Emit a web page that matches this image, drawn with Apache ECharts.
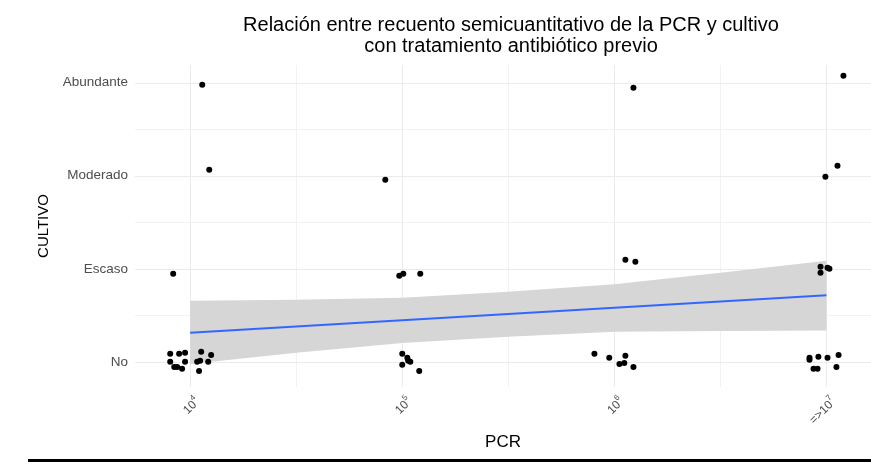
<!DOCTYPE html>
<html>
<head>
<meta charset="utf-8">
<script src="https://cdn.jsdelivr.net/npm/echarts@6/dist/echarts.min.js"></script>
<style>
  html, body { margin: 0; padding: 0; background: #fff; }
  #chart { width: 871px; height: 465px; }
</style>
</head>
<body>
<div id="chart"></div>
<script>
// categories
const yLabels = ['No', 'Escaso', 'Moderado', 'Abundante']
const xBase = ['10', '10', '10', '=>10']
const xExp = ['4', '5', '6', '7']

// jittered points (x ~ PCR category, y ~ CULTIVO level)
const pointsX = [
  0.906, 0.948, 0.976, 1.052, 1.099, 0.906, 0.925, 0.939, 0.976, 0.962, 1.033, 1.047, 1.085, 1.042,
  0.920, 1.090, 1.057,
  2.000, 2.024, 2.038, 2.028, 2.000, 2.080,
  1.986, 2.005, 2.085, 1.920,
  2.906, 2.976, 3.052, 3.024, 3.047, 3.090,
  3.052, 3.099, 3.090,
  3.972, 4.005, 4.014, 3.972,
  3.920, 3.920, 3.962, 4.005, 4.057, 3.939, 3.958, 4.047,
  4.052, 3.995, 4.080
]
const pointsY = [
  1.086, 1.086, 1.097, 1.108, 1.075, 1.000, 0.946, 0.946, 1.000, 0.925, 1.000, 1.011, 1.000, 0.903,
  1.946, 3.065, 3.978,
  1.086, 1.043, 1.000, 1.011, 0.968, 0.903,
  1.925, 1.946, 1.946, 2.957,
  1.086, 1.043, 1.065, 0.978, 0.989, 0.946,
  2.097, 2.075, 3.946,
  2.022, 2.011, 2.000, 1.957,
  1.043, 1.022, 1.054, 1.043, 1.075, 0.925, 0.925, 0.946,
  3.108, 2.989, 4.075
]

// linear fit and its confidence band
const fitX = [1, 4]
const fitY = [1.312, 1.715]
const bandX = [1, 1.5, 2, 2.5, 3, 3.5, 4]
const bandHigh = [1.656, 1.667, 1.688, 1.753, 1.833, 1.957, 2.086]
const bandLow = [0.978, 1.097, 1.204, 1.269, 1.323, 1.333, 1.338]

// grid lines
const gridMajor = [1, 2, 3, 4]
const gridMinor = [1.5, 2.5, 3.5]

const chart = echarts.init(document.getElementById('chart'))
const font = 'Liberation Sans, Arial, sans-serif'

// [dimension, value, major?]
const gridData = []
gridMinor.forEach(v => { gridData.push([0, v, 0]); gridData.push([1, v, 0]) })
gridMajor.forEach(v => { gridData.push([0, v, 1]); gridData.push([1, v, 1]) })

const opt = {
  animation: false,
  backgroundColor: '#fff',
  textStyle: { fontFamily: font },
  title: {
    text: 'Relación entre recuento semicuantitativo de la PCR y cultivo\ncon tratamiento antibiótico previo',
    left: 506,
    top: 10,
    textAlign: 'center',
    textStyle: { fontFamily: font, fontSize: 20, fontWeight: 'normal', color: '#000', lineHeight: 21 }
  },
  grid: { left: 135, right: 0, top: 65, bottom: 78 },
  xAxis: {
    type: 'value',
    min: 0.74,
    max: 4.21,
    name: 'PCR',
    nameLocation: 'middle',
    nameGap: 43,
    nameTextStyle: { fontFamily: font, fontSize: 17, color: '#000' },
    axisLine: { show: false },
    axisTick: { show: false },
    splitLine: { show: false },
    axisLabel: {
      customValues: [1, 2, 3, 4],
      rotate: 45,
      margin: 5,
      verticalAlign: 'top',
      padding: [2, 0, 0, 0],
      formatter: v => {
        const i = Math.round(v) - 1
        return '{b|' + xBase[i] + '}{s|' + xExp[i] + '}'
      },
      rich: {
        b: { fontFamily: font, fontSize: 12, color: '#4d4d4d', lineHeight: 15, verticalAlign: 'bottom' },
        s: { fontFamily: font, fontSize: 8, color: '#4d4d4d', lineHeight: 15, verticalAlign: 'top' }
      }
    }
  },
  yAxis: {
    type: 'value',
    min: 0.73,
    max: 4.19,
    name: 'CULTIVO',
    nameLocation: 'middle',
    nameGap: 79,
    nameTextStyle: { fontFamily: font, fontSize: 15, color: '#000' },
    axisLine: { show: false },
    axisTick: { show: false },
    splitLine: { show: false },
    axisLabel: {
      customValues: [1, 2, 3, 4],
      margin: 7,
      fontFamily: font,
      fontSize: 13.5,
      color: '#4d4d4d',
      formatter: v => yLabels[Math.round(v) - 1]
    }
  },
  graphic: [
    { type: 'rect', left: 28, top: 459, shape: { width: 843, height: 3 }, style: { fill: '#000' }, silent: true }
  ],
  series: [
    {
      name: 'grid',
      type: 'custom',
      z: 1,
      silent: true,
      data: gridData,
      renderItem: (params, api) => {
        const cs = params.coordSys
        const dim = api.value(0)
        const v = api.value(1)
        const color = api.value(2) ? '#ebebeb' : '#f2f2f2'
        let shape
        if (dim === 0) {
          const x = Math.round(api.coord([v, 1])[0]) + 0.5
          shape = { x1: x, y1: cs.y, x2: x, y2: cs.y + cs.height }
        } else {
          const y = Math.round(api.coord([1, v])[1]) + 0.5
          shape = { x1: cs.x, y1: y, x2: cs.x + cs.width, y2: y }
        }
        return { type: 'line', shape: shape, style: { stroke: color, lineWidth: 1 } }
      }
    },
    {
      name: 'band',
      type: 'custom',
      z: 2,
      silent: true,
      data: [0],
      renderItem: (params, api) => {
        const pts = []
        bandX.forEach((x, i) => pts.push(api.coord([x, bandHigh[i]])))
        for (let i = bandX.length - 1; i >= 0; i--) pts.push(api.coord([bandX[i], bandLow[i]]))
        return {
          type: 'polygon',
          shape: { points: pts },
          style: { fill: '#d6d6d6' }
        }
      }
    },
    {
      name: 'fit',
      type: 'line',
      z: 3,
      silent: true,
      symbol: 'none',
      lineStyle: { color: '#3366ff', width: 2 },
      data: fitX.map((x, i) => [x, fitY[i]])
    },
    {
      name: 'points',
      type: 'scatter',
      z: 4,
      symbolSize: 6,
      itemStyle: { color: '#000', opacity: 1 },
      data: pointsX.map((x, i) => [x, pointsY[i]])
    }
  ]
}

chart.setOption(opt, true)
</script>
</body>
</html>
